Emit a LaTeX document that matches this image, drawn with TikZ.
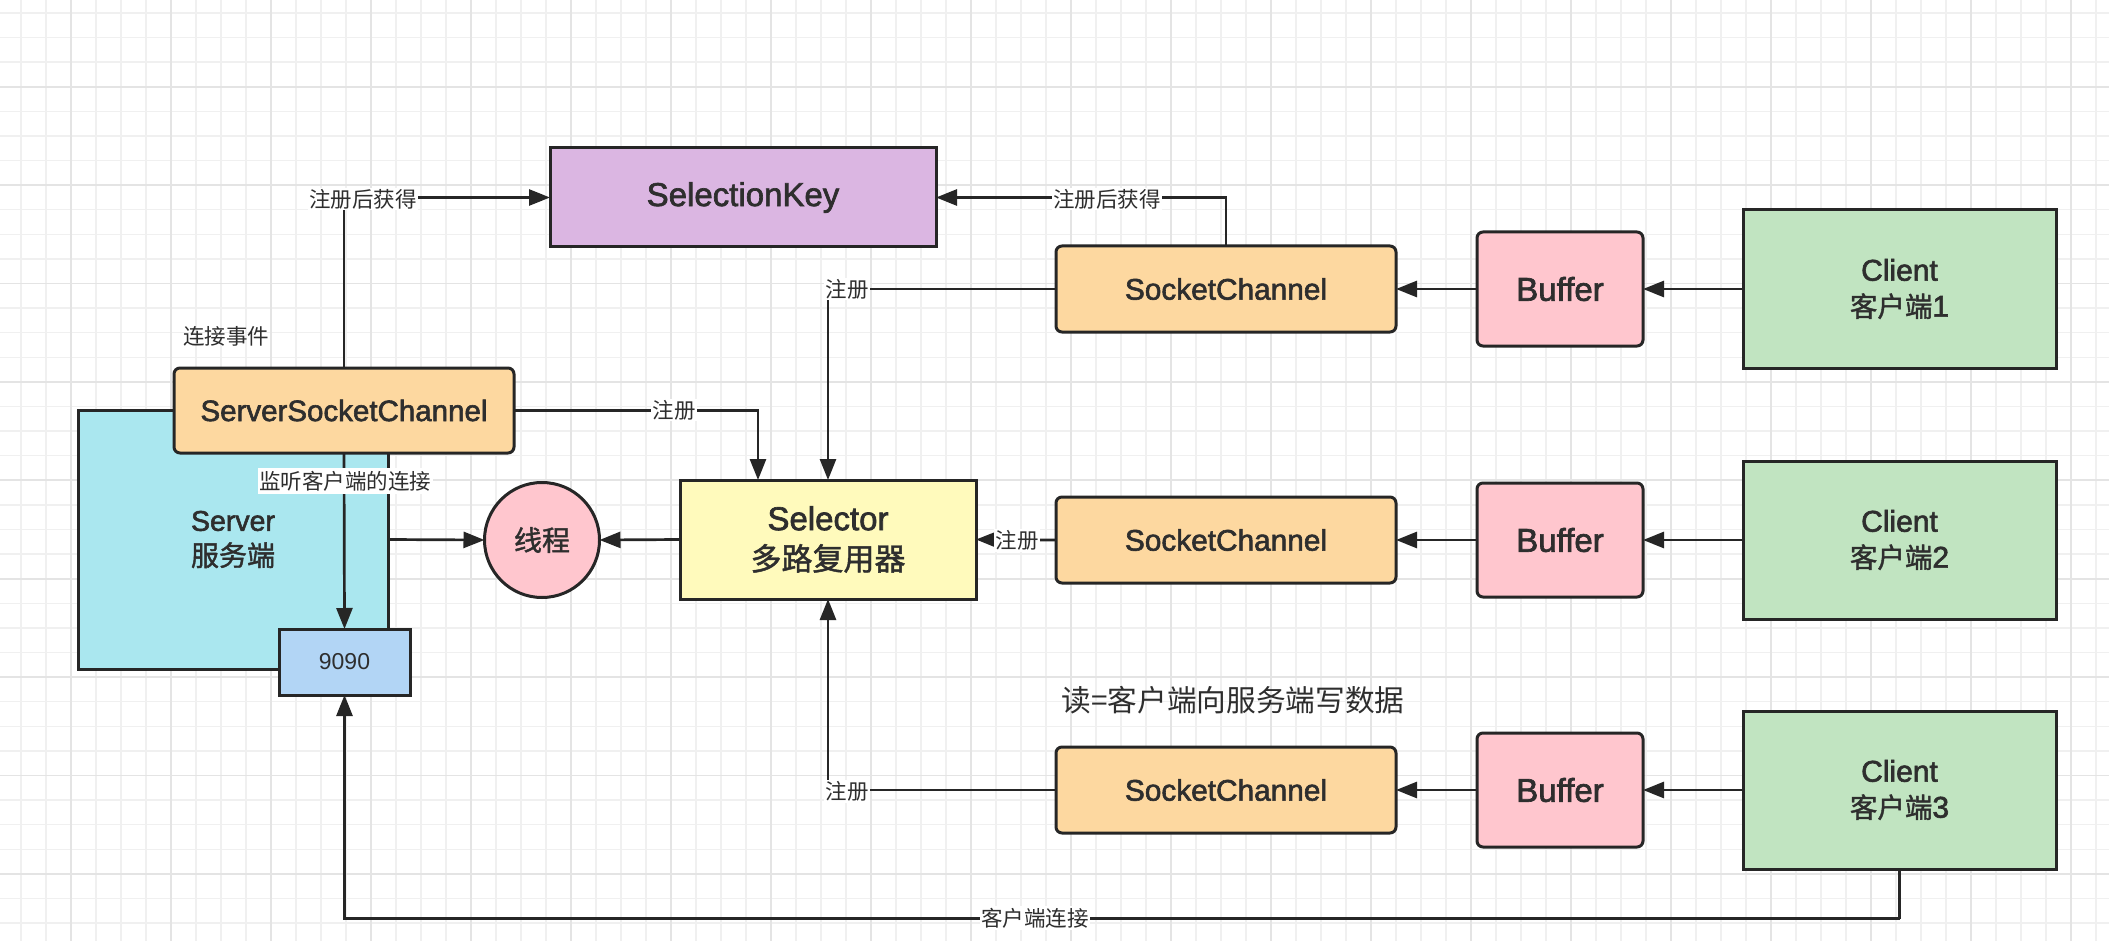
\documentclass[tikz,border=0pt]{standalone}
\usepackage{fontspec}
\setmainfont{Liberation Sans}
\newfontfamily\cjk{Noto Sans CJK SC}
\newfontfamily\medfam{Liberation Sans}[BoldFont={Liberation Sans}, BoldFeatures={FakeBold=2}]
\newfontfamily\cjkmfam{Noto Sans CJK SC}[BoldFont={Noto Sans CJK SC}, BoldFeatures={FakeBold=1.5}]
\newcommand\medf{\medfam\bfseries}
\newcommand\cjkm{\cjkmfam\bfseries}
\usetikzlibrary{arrows.meta}
\definecolor{linec}{HTML}{262626}
\definecolor{txt}{HTML}{2E2E2E}
\definecolor{gridmin}{HTML}{F0F0F0}
\definecolor{gridmaj}{HTML}{E4E4E4}
\definecolor{skfill}{HTML}{DBB6E2}
\definecolor{orfill}{HTML}{FDD8A0}
\definecolor{cyfill}{HTML}{AAE7EF}
\definecolor{blfill}{HTML}{B2D5F5}
\definecolor{pkfill}{HTML}{FFC6CE}
\definecolor{ylfill}{HTML}{FFFABC}
\definecolor{grfill}{HTML}{C1E4C1}
\newcommand\myfs[2]{\fontsize{#1}{#2}\selectfont}
\begin{document}
\begin{tikzpicture}[x=1pt,y=-1pt,
  box/.style={draw=linec, line width=3pt, inner sep=0pt, outer sep=0pt, text=txt, align=center},
  rbox/.style={box, rounded corners=6pt},
  conn/.style={draw=linec, line width=2.7pt, -{Triangle[length=21pt,width=16pt]}},
  plain/.style={draw=linec, line width=2.7pt},
  lbl/.style={fill=white, inner sep=1.5pt, text=txt, font=\cjk\myfs{21.5}{24}}
]
\useasboundingbox (0,0) rectangle (2109,941);
\fill[white] (0,0) rectangle (2109,941);
% grid
\foreach \i in {0,...,83} {\draw[gridmin, line width=1.4pt] ({21+25*\i},0) -- ({21+25*\i},941);}
\foreach \j in {0,...,38} {\draw[gridmin, line width=1.4pt] (0,{12.9+24.6*\j}) -- (2109,{12.9+24.6*\j});}
\foreach \i in {0,...,20} {\draw[gridmaj, line width=1.8pt] ({71+100*\i},0) -- ({71+100*\i},941);}
\foreach \j in {0,...,9} {\draw[gridmaj, line width=1.8pt] (0,{86.7+98.4*\j}) -- (2109,{86.7+98.4*\j});}

% nodes
\node[box, fill=skfill, minimum width=386pt, minimum height=99pt, font=\medf\myfs{33}{36}] (sk) at (743,197.5) {SelectionKey};
\node[box, fill=cyfill, minimum width=310pt, minimum height=259pt, font=\medf\myfs{28.5}{35}] (server) at (233,539.5) {Server\\{\cjkm\myfs{28}{35}服务端}};
\node[rbox, fill=orfill, minimum width=340pt, minimum height=85pt, font=\medf\myfs{29.5}{34}] (ssc) at (344,410.5) {ServerSocketChannel};
\node[box, fill=blfill, minimum width=131pt, minimum height=66pt, font=\myfs{23}{26}] (port) at (344.5,662) {9090};
\node[box, circle, fill=pkfill, minimum size=115pt, font=\cjkm\myfs{28}{32}] (thread) at (542,540) {线程};
\node[box, fill=ylfill, minimum width=296pt, minimum height=119pt, font=\medf\myfs{33}{40}] (sel) at (828,539.5) {Selector\\{\cjkm\myfs{31}{40}多路复用器}};

\foreach \r/\y in {1/289,2/540,3/790} {
  \node[rbox, fill=orfill, minimum width=340pt, minimum height=86pt, font=\medf\myfs{29.8}{34}] (sc\r) at (1226,\y) {SocketChannel};
  \node[rbox, fill=pkfill, minimum width=166pt, minimum height=114pt, font=\medf\myfs{33}{36}] (buf\r) at (1560,\y) {Buffer};
  \node[box, fill=grfill, minimum width=313pt, minimum height=158pt, font=\medf\myfs{30}{36}] (cl\r) at (1899.5,\y) {Client\\{\cjkm\myfs{27.5}{36}客户端}\r};
}

% connectors
\foreach \r in {1,2,3} {
  \draw[conn] (cl\r.west) -- (buf\r.east);
  \draw[conn] (buf\r.west) -- (sc\r.east);
}
\draw[conn] (ssc.north) |- (sk.west);
\draw[conn] (sc1.north) |- (sk.east);
\draw[conn] (ssc.east) -| ([xshift=-70pt]sel.north);
\draw[conn] (sc1.west) -| (sel.north);
\draw[conn] (sc2.west) -- (sel.east);
\draw[conn] (sc3.west) -| (sel.south);
\draw[conn] (sel.west) -- (thread.east);
\draw[conn] (server.east) -- (thread.west);
\draw[conn] (ssc.south) -- (port.north);
\coordinate (bl) at (1899.5,918.5);
\draw[plain] (cl3.south) -- (bl);
\draw[conn] (bl) -| (port.south);

% labels
\node[lbl] (l1) at (363,199) {注册后获得};
\node[lbl] (l2) at (1107,199) {注册后获得};
\node[lbl] (l3) at (674,410) {注册};
\node[lbl] (l4) at (847,289) {注册};
\node[lbl] (l5) at (1017,540) {注册};
\node[lbl] (l6) at (847,791) {注册};
\node[lbl, inner ysep=3pt] (l7) at (345,481) {监听客户端的连接};
\node[lbl] (l8) at (1035,918) {客户端连接};
\node[text=txt, font=\cjk\myfs{21.5}{24}] (l9) at (226,336) {连接事件};
\node[text=txt, font=\cjk\myfs{29.7}{32}] (l10) at (1233,700) {读=客户端向服务端写数据};
\end{tikzpicture}
\end{document}
